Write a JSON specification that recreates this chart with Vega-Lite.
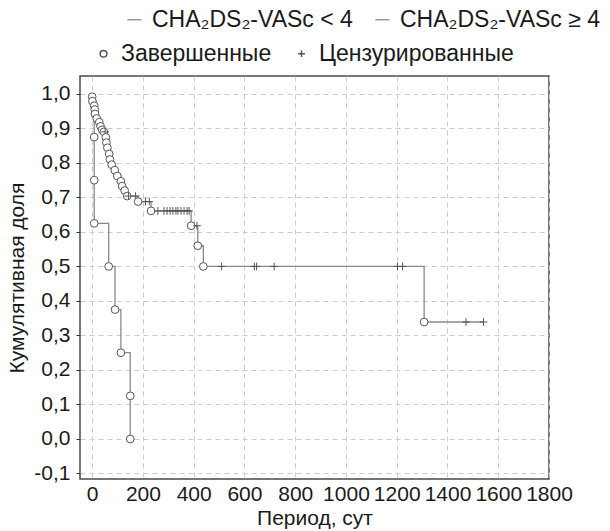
{
  "$schema": "https://vega.github.io/schema/vega-lite/v6.json",
  "width": 469,
  "height": 403,
  "autosize": {"type": "none"},
  "padding": {"left": 80, "top": 76, "right": 61, "bottom": 52},
  "background": "white",
  "data": {
    "values": [
      {"group": "CHA₂DS₂-VASc < 4", "day": 0, "surv": 1.0, "kind": "start"},
      {"group": "CHA₂DS₂-VASc < 4", "day": 0, "surv": 0.992, "kind": "Завершенные"},
      {"group": "CHA₂DS₂-VASc < 4", "day": 1, "surv": 0.979, "kind": "Завершенные"},
      {"group": "CHA₂DS₂-VASc < 4", "day": 8, "surv": 0.966, "kind": "Завершенные"},
      {"group": "CHA₂DS₂-VASc < 4", "day": 10, "surv": 0.955, "kind": "Завершенные"},
      {"group": "CHA₂DS₂-VASc < 4", "day": 11, "surv": 0.942, "kind": "Завершенные"},
      {"group": "CHA₂DS₂-VASc < 4", "day": 18, "surv": 0.929, "kind": "Завершенные"},
      {"group": "CHA₂DS₂-VASc < 4", "day": 28, "surv": 0.918, "kind": "Завершенные"},
      {"group": "CHA₂DS₂-VASc < 4", "day": 33, "surv": 0.906, "kind": "Завершенные"},
      {"group": "CHA₂DS₂-VASc < 4", "day": 39, "surv": 0.896, "kind": "Завершенные"},
      {"group": "CHA₂DS₂-VASc < 4", "day": 46, "surv": 0.89, "kind": "Завершенные"},
      {"group": "CHA₂DS₂-VASc < 4", "day": 51, "surv": 0.89, "kind": "Цензурированные"},
      {"group": "CHA₂DS₂-VASc < 4", "day": 54, "surv": 0.874, "kind": "Завершенные"},
      {"group": "CHA₂DS₂-VASc < 4", "day": 56, "surv": 0.859, "kind": "Завершенные"},
      {"group": "CHA₂DS₂-VASc < 4", "day": 60, "surv": 0.844, "kind": "Завершенные"},
      {"group": "CHA₂DS₂-VASc < 4", "day": 67, "surv": 0.826, "kind": "Завершенные"},
      {"group": "CHA₂DS₂-VASc < 4", "day": 70, "surv": 0.81, "kind": "Завершенные"},
      {"group": "CHA₂DS₂-VASc < 4", "day": 77, "surv": 0.795, "kind": "Завершенные"},
      {"group": "CHA₂DS₂-VASc < 4", "day": 89, "surv": 0.779, "kind": "Завершенные"},
      {"group": "CHA₂DS₂-VASc < 4", "day": 99, "surv": 0.762, "kind": "Завершенные"},
      {"group": "CHA₂DS₂-VASc < 4", "day": 113, "surv": 0.747, "kind": "Завершенные"},
      {"group": "CHA₂DS₂-VASc < 4", "day": 118, "surv": 0.733, "kind": "Завершенные"},
      {"group": "CHA₂DS₂-VASc < 4", "day": 128, "surv": 0.72, "kind": "Завершенные"},
      {"group": "CHA₂DS₂-VASc < 4", "day": 138, "surv": 0.704, "kind": "Завершенные"},
      {"group": "CHA₂DS₂-VASc < 4", "day": 143, "surv": 0.704, "kind": "Цензурированные"},
      {"group": "CHA₂DS₂-VASc < 4", "day": 171, "surv": 0.704, "kind": "Цензурированные"},
      {"group": "CHA₂DS₂-VASc < 4", "day": 181, "surv": 0.688, "kind": "Завершенные"},
      {"group": "CHA₂DS₂-VASc < 4", "day": 210, "surv": 0.688, "kind": "Цензурированные"},
      {"group": "CHA₂DS₂-VASc < 4", "day": 225, "surv": 0.688, "kind": "Цензурированные"},
      {"group": "CHA₂DS₂-VASc < 4", "day": 232, "surv": 0.661, "kind": "Завершенные"},
      {"group": "CHA₂DS₂-VASc < 4", "day": 259, "surv": 0.661, "kind": "Цензурированные"},
      {"group": "CHA₂DS₂-VASc < 4", "day": 283, "surv": 0.661, "kind": "Цензурированные"},
      {"group": "CHA₂DS₂-VASc < 4", "day": 295, "surv": 0.661, "kind": "Цензурированные"},
      {"group": "CHA₂DS₂-VASc < 4", "day": 307, "surv": 0.661, "kind": "Цензурированные"},
      {"group": "CHA₂DS₂-VASc < 4", "day": 318, "surv": 0.661, "kind": "Цензурированные"},
      {"group": "CHA₂DS₂-VASc < 4", "day": 330, "surv": 0.661, "kind": "Цензурированные"},
      {"group": "CHA₂DS₂-VASc < 4", "day": 338, "surv": 0.661, "kind": "Цензурированные"},
      {"group": "CHA₂DS₂-VASc < 4", "day": 350, "surv": 0.661, "kind": "Цензурированные"},
      {"group": "CHA₂DS₂-VASc < 4", "day": 362, "surv": 0.661, "kind": "Цензурированные"},
      {"group": "CHA₂DS₂-VASc < 4", "day": 374, "surv": 0.661, "kind": "Цензурированные"},
      {"group": "CHA₂DS₂-VASc < 4", "day": 382, "surv": 0.661, "kind": "Цензурированные"},
      {"group": "CHA₂DS₂-VASc < 4", "day": 390, "surv": 0.618, "kind": "Завершенные"},
      {"group": "CHA₂DS₂-VASc < 4", "day": 413, "surv": 0.618, "kind": "Цензурированные"},
      {"group": "CHA₂DS₂-VASc < 4", "day": 416, "surv": 0.56, "kind": "Завершенные"},
      {"group": "CHA₂DS₂-VASc < 4", "day": 438, "surv": 0.5, "kind": "Завершенные"},
      {"group": "CHA₂DS₂-VASc < 4", "day": 510, "surv": 0.5, "kind": "Цензурированные"},
      {"group": "CHA₂DS₂-VASc < 4", "day": 639, "surv": 0.5, "kind": "Цензурированные"},
      {"group": "CHA₂DS₂-VASc < 4", "day": 648, "surv": 0.5, "kind": "Цензурированные"},
      {"group": "CHA₂DS₂-VASc < 4", "day": 717, "surv": 0.5, "kind": "Цензурированные"},
      {"group": "CHA₂DS₂-VASc < 4", "day": 1203, "surv": 0.5, "kind": "Цензурированные"},
      {"group": "CHA₂DS₂-VASc < 4", "day": 1223, "surv": 0.5, "kind": "Цензурированные"},
      {"group": "CHA₂DS₂-VASc < 4", "day": 1308, "surv": 0.339, "kind": "Завершенные"},
      {"group": "CHA₂DS₂-VASc < 4", "day": 1473, "surv": 0.339, "kind": "Цензурированные"},
      {"group": "CHA₂DS₂-VASc < 4", "day": 1542, "surv": 0.339, "kind": "Цензурированные"},
      {"group": "CHA₂DS₂-VASc ≥ 4", "day": 0, "surv": 1.0, "kind": "start"},
      {"group": "CHA₂DS₂-VASc ≥ 4", "day": 8, "surv": 0.875, "kind": "Завершенные"},
      {"group": "CHA₂DS₂-VASc ≥ 4", "day": 8, "surv": 0.75, "kind": "Завершенные"},
      {"group": "CHA₂DS₂-VASc ≥ 4", "day": 8, "surv": 0.625, "kind": "Завершенные"},
      {"group": "CHA₂DS₂-VASc ≥ 4", "day": 65, "surv": 0.5, "kind": "Завершенные"},
      {"group": "CHA₂DS₂-VASc ≥ 4", "day": 90, "surv": 0.375, "kind": "Завершенные"},
      {"group": "CHA₂DS₂-VASc ≥ 4", "day": 113, "surv": 0.25, "kind": "Завершенные"},
      {"group": "CHA₂DS₂-VASc ≥ 4", "day": 150, "surv": 0.125, "kind": "Завершенные"},
      {"group": "CHA₂DS₂-VASc ≥ 4", "day": 150, "surv": 0.0, "kind": "Завершенные"}
    ]
  },
  "config": {
    "font": "Liberation Sans",
    "view": {"stroke": "#4a4a4a", "strokeWidth": 1.5},
    "axis": {
      "labelFont": "Liberation Sans",
      "labelFontSize": 21,
      "labelColor": "#1a1a1a",
      "titleFont": "Liberation Sans",
      "titleFontSize": 21,
      "titleFontWeight": "normal",
      "titleColor": "#1a1a1a",
      "gridColor": "#cccccc",
      "gridDash": [5, 4],
      "gridWidth": 1,
      "domain": false,
      "tickColor": "#333333",
      "labelOverlap": false,
      "labelFlush": false
    },
    "legend": {
      "labelFont": "Liberation Sans",
      "labelFontSize": 23,
      "labelColor": "#1a1a1a",
      "labelLimit": 0,
      "orient": "none",
      "direction": "horizontal",
      "title": null
    }
  },
  "layer": [
    {
      "mark": {"type": "line", "interpolate": "step-after", "strokeWidth": 1.3},
      "encoding": {
        "x": {
          "field": "day", "type": "quantitative",
          "scale": {"domain": [-48, 1800], "nice": false, "zero": false},
          "axis": {"values": [0, 200, 400, 600, 800, 1000, 1200, 1400, 1600, 1800], "format": "d", "title": "Период, сут", "tickSize": 0, "labelPadding": 4, "titlePadding": 3, "labelOverlap": false, "labelFlush": false}
        },
        "y": {
          "field": "surv", "type": "quantitative",
          "scale": {"domain": [-0.116, 1.052], "nice": false, "zero": false},
          "axis": {"values": [-0.1, 0, 0.1, 0.2, 0.3, 0.4, 0.5, 0.6, 0.7, 0.8, 0.9, 1.0], "labelExpr": "replace(replace(format(datum.value, '.1f'), '.', ','), '−', '-')", "title": "Кумулятивная доля", "tickSize": 4, "labelPadding": 6, "titlePadding": 6, "labelOverlap": false, "labelFlush": false}
        },
        "stroke": {
          "field": "group", "type": "nominal",
          "scale": {"domain": ["CHA₂DS₂-VASc < 4", "CHA₂DS₂-VASc ≥ 4"], "range": ["#8a8a8a", "#8a8a8a"]},
          "legend": {"symbolType": "stroke", "symbolSize": 200, "symbolStrokeWidth": 1.3, "legendX": 43, "legendY": -68, "columnPadding": 18, "labelOffset": 6}
        },
        "order": [{"field": "day", "type": "quantitative"}, {"field": "surv", "type": "quantitative", "sort": "descending"}]
      }
    },
    {
      "transform": [{"filter": "datum.kind != 'start'"}],
      "mark": {"type": "point", "filled": true, "fill": "white", "stroke": "#555555", "strokeWidth": 1, "size": 60, "opacity": 1},
      "encoding": {
        "x": {
          "field": "day", "type": "quantitative",
          "axis": {"values": [0, 200, 400, 600, 800, 1000, 1200, 1400, 1600, 1800], "format": "d", "title": "Период, сут", "tickSize": 0, "labelPadding": 4, "titlePadding": 3, "labelOverlap": false, "labelFlush": false}
        },
        "y": {
          "field": "surv", "type": "quantitative",
          "axis": {"values": [-0.1, 0, 0.1, 0.2, 0.3, 0.4, 0.5, 0.6, 0.7, 0.8, 0.9, 1.0], "labelExpr": "replace(replace(format(datum.value, '.1f'), '.', ','), '−', '-')", "title": "Кумулятивная доля", "tickSize": 4, "labelPadding": 6, "titlePadding": 6, "labelOverlap": false, "labelFlush": false}
        },
        "shape": {
          "field": "kind", "type": "nominal",
          "scale": {"domain": ["Завершенные", "Цензурированные"], "range": ["circle", "M-1,0L1,0M0,-1L0,1"]},
          "legend": {
            "symbolSize": 45, "legendX": 12, "legendY": -34, "columnPadding": 18, "labelOffset": 6,
            "encode": {"symbols": {"update": {"fill": {"value": "white"}, "stroke": {"value": "#555555"}, "strokeWidth": {"value": 1}, "opacity": {"value": 1}}}}
          }
        }
      }
    }
  ]
}
